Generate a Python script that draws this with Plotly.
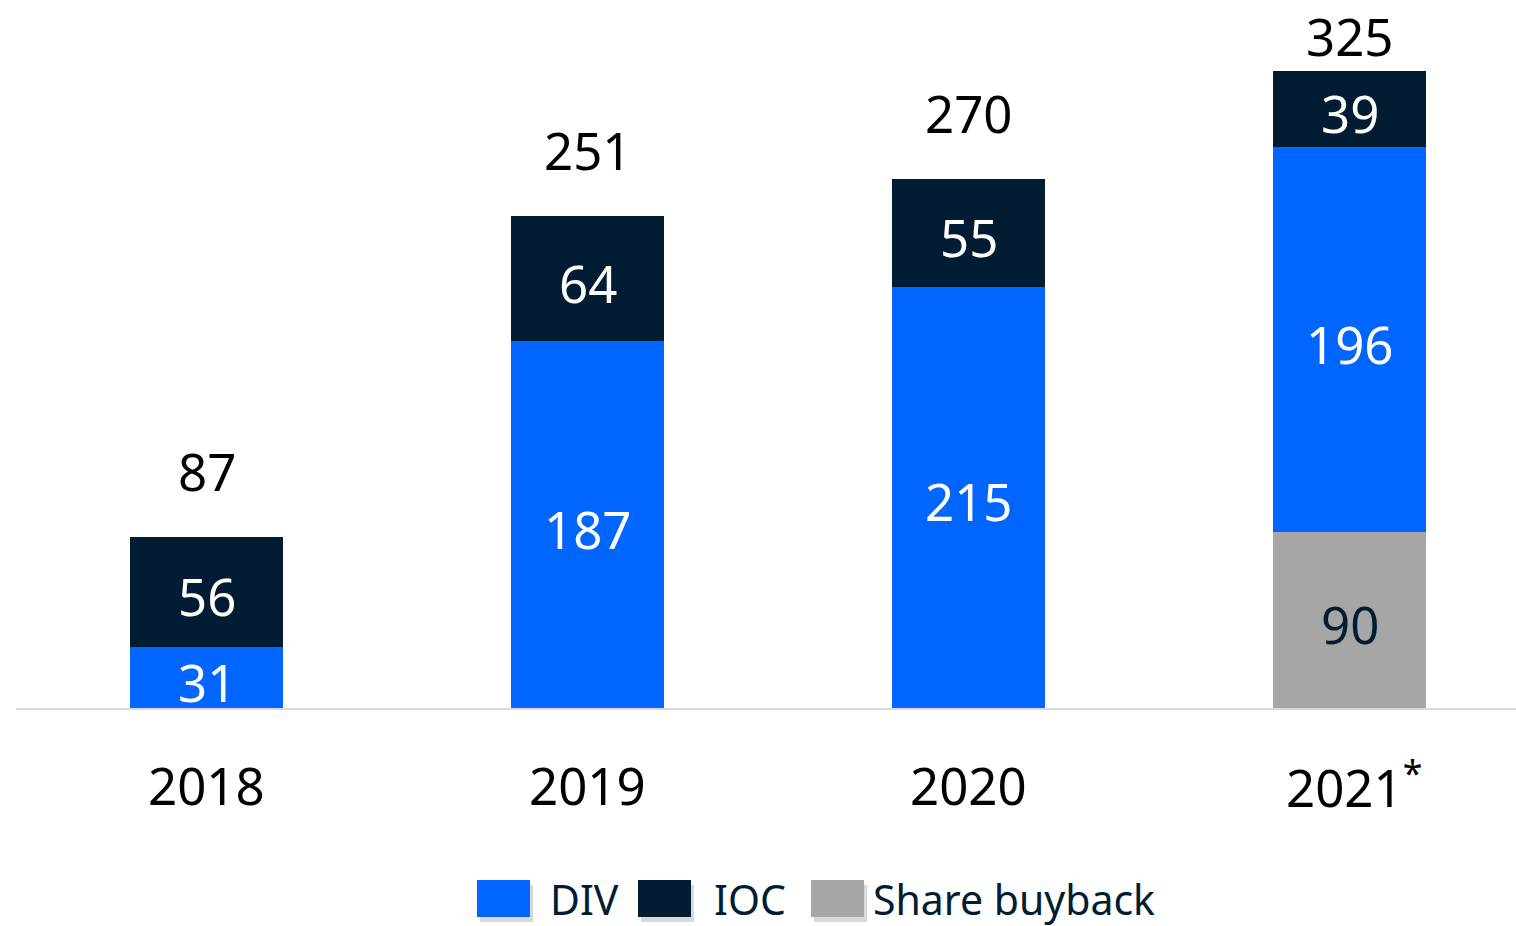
import plotly.graph_objects as go

categories = ["2018", "2019", "2020", "2021"]
category_labels = ["2018", "2019", "2020", "2021<sup>*</sup>"]
buyback = [0, 0, 0, 90]
div = [31, 187, 215, 196]
ioc = [56, 64, 55, 39]
totals = [87, 251, 270, 325]

BLUE = "#0066FF"
NAVY = "#011C33"
GRAY = "#A6A6A6"
FONT = "Noto Sans"
FS = 51

W, H = 1516, 926
ML, MR, MT, MB = 16, 0, 0, 218
PW, PH = W - ML - MR, H - MT - MB
YMAX = 361.2

xpos = list(range(len(categories)))

def px_to_paper(px, py):
    return (px - ML) / PW, (H - MB - py) / PH

fig = go.Figure()
for name, vals, col in [("Share buyback", buyback, GRAY), ("DIV", div, BLUE), ("IOC", ioc, NAVY)]:
    fig.add_trace(go.Bar(x=xpos, y=vals, name=name, width=0.4,
                         marker=dict(color=col, line=dict(width=0)),
                         showlegend=False, customdata=categories,
                         hovertemplate="%{customdata}: %{y}<extra>" + name + "</extra>"))

ann = []
for i in xpos:
    base = 0
    for vals, fcol in [(buyback, NAVY), (div, "white"), (ioc, "white")]:
        v = vals[i]
        if v > 0:
            ann.append(dict(x=i, y=base + v / 2, text=str(v), showarrow=False, xref="x", yref="y",
                            font=dict(family=FONT, size=FS, color=fcol), yanchor="middle", yshift=-4))
        base += v
    top_px = PH * (1 - totals[i] / YMAX)
    center = max(top_px - 66, 36)
    ann.append(dict(x=i, y=totals[i], text=str(totals[i]), showarrow=False, xref="x", yref="y",
                    font=dict(family=FONT, size=FS, color="black"), yanchor="middle",
                    yshift=top_px - center))
    ann.append(dict(x=i, y=0, text=category_labels[i], showarrow=False, xref="x", yref="y",
                    font=dict(family=FONT, size=FS, color="black"), yanchor="middle",
                    yshift=-77, xshift=4 if "sup" in category_labels[i] else 0))

shapes = []
legend_items = [("DIV", BLUE, 477, 548), ("IOC", NAVY, 638, 712), ("Share buyback", GRAY, 811, 871)]
for name, col, sx, tx in legend_items:
    x0, y0 = px_to_paper(sx + 3, 885)
    x1, y1 = px_to_paper(sx + 56, 922)
    shapes.append(dict(type="rect", xref="paper", yref="paper", x0=x0, y0=y0, x1=x1, y1=y1,
                       fillcolor="rgba(0,0,0,0.15)", line=dict(width=0), layer="above"))
    x0, y0 = px_to_paper(sx, 880)
    x1, y1 = px_to_paper(sx + 53, 917)
    shapes.append(dict(type="rect", xref="paper", yref="paper", x0=x0, y0=y0, x1=x1, y1=y1,
                       fillcolor=col, line=dict(width=0), layer="above"))
    ax, ay = px_to_paper(tx, 899)
    ann.append(dict(x=ax, y=ay, xref="paper", yref="paper", text=name, showarrow=False,
                    xanchor="left", yanchor="middle", font=dict(family=FONT, size=41, color=NAVY)))

fig.update_layout(
    width=W, height=H,
    margin=dict(l=ML, r=MR, t=MT, b=MB),
    barmode="stack",
    plot_bgcolor="white", paper_bgcolor="white",
    xaxis=dict(type="linear", range=[-0.5, 3.437], showticklabels=False, showgrid=False, zeroline=False,
               showline=True, linecolor="#D9D9D9", linewidth=2, ticks=""),
    yaxis=dict(range=[0, YMAX], visible=False, showgrid=False, zeroline=False),
    annotations=ann, shapes=shapes,
)

fig.write_html("out.html", config={"displayModeBar": False},
               post_script="document.body.style.margin='0';")
